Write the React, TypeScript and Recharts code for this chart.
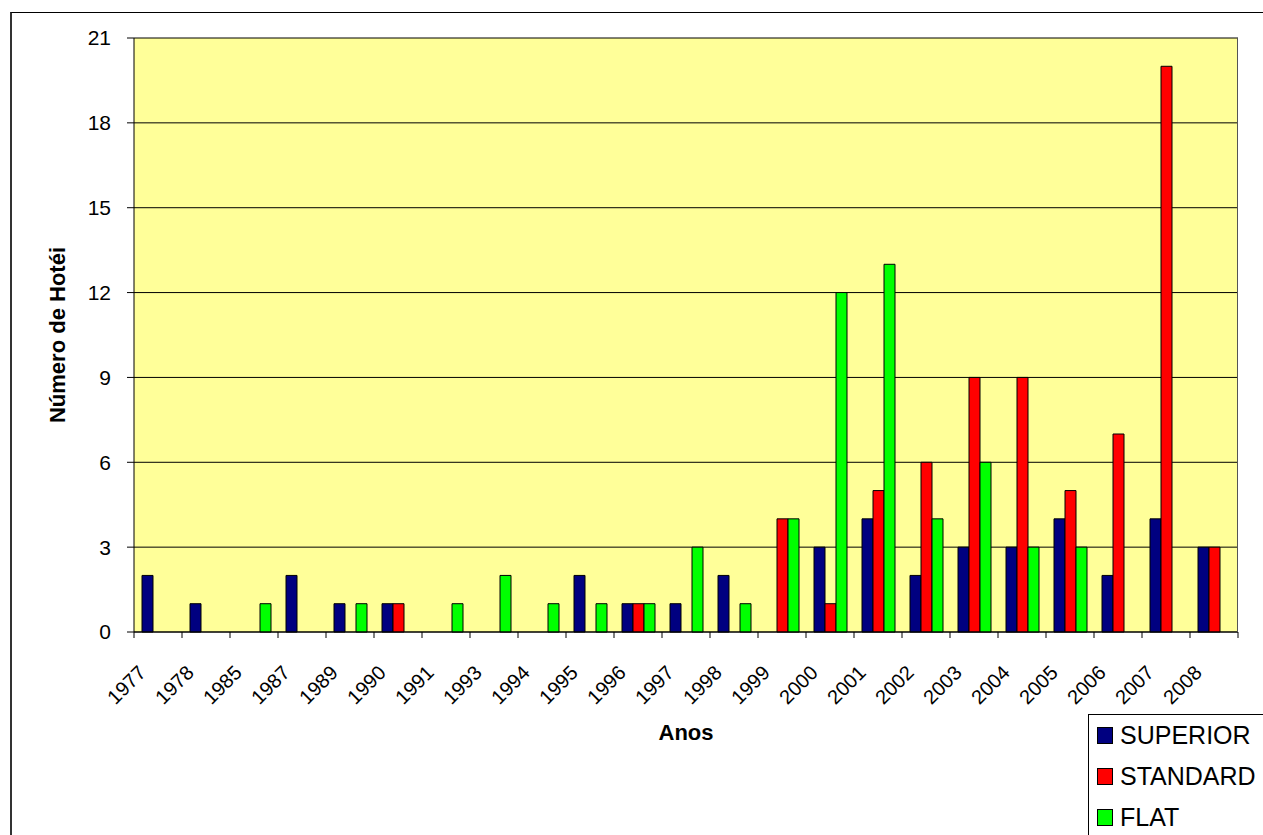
import { Bar, BarChart, CartesianGrid, XAxis, YAxis } from "recharts";

const years = [
  "1977", "1978", "1985", "1987", "1989", "1990", "1991", "1993", "1994", "1995", "1996", "1997",
  "1998", "1999", "2000", "2001", "2002", "2003", "2004", "2005", "2006", "2007", "2008"
];
const superior = [2, 1, 0, 2, 1, 1, 0, 0, 0, 2, 1, 1, 2, 0, 3, 4, 2, 3, 3, 4, 2, 4, 3];
const standard = [0, 0, 0, 0, 0, 1, 0, 0, 0, 0, 1, 0, 0, 4, 1, 5, 6, 9, 9, 5, 7, 20, 3];
const flat = [0, 0, 1, 0, 1, 0, 1, 2, 1, 1, 1, 3, 1, 4, 12, 13, 4, 6, 3, 3, 0, 0, 0];
const yTicks = [0, 3, 6, 9, 12, 15, 18, 21];

const series = [
  { key: "SUPERIOR", values: superior, color: "#000080" },
  { key: "STANDARD", values: standard, color: "#ff0000" },
  { key: "FLAT", values: flat, color: "#00ff00" }
];

// zero means "no hotels": leave the bar out like the original does
const data = years.map((year, i) => {
  const row: Record<string, string | number | null> = { year };
  series.forEach((s) => {
    row[s.key] = s.values[i] === 0 ? null : s.values[i];
  });
  return row;
});

const font = "Arial, 'Liberation Sans', sans-serif";

function YearTick(props: any) {
  const { x, y, payload, index } = props;
  const half = payload.offset ?? 24;
  const tx = x - 11;
  const ty = y + 42;
  return (
    <g>
      <line x1={x - half} y1={y} x2={x - half} y2={y + 6} stroke="#000" />
      {index === years.length - 1 && <line x1={x + half} y1={y} x2={x + half} y2={y + 6} stroke="#000" />}
      <text
        x={tx}
        y={ty}
        textAnchor="end"
        fontSize={20}
        fontFamily={font}
        fill="#000"
        transform={`rotate(-45, ${tx}, ${ty})`}
      >
        {payload.value}
      </text>
    </g>
  );
}

function LegendBox() {
  return (
    <div
      style={{
        position: "absolute",
        left: 1088,
        top: 714,
        width: 190,
        height: 140,
        border: "1px solid #000",
        background: "#fff",
        boxSizing: "border-box",
        padding: "0 0 0 8px",
        fontFamily: font,
        fontSize: 25
      }}
    >
      {series.map((s) => (
        <div key={s.key} style={{ display: "flex", alignItems: "center", height: 41 }}>
          <span
            style={{
              display: "inline-block",
              width: 14,
              height: 15,
              background: s.color,
              border: "1px solid #000",
              marginRight: 7
            }}
          />
          <span>{s.key}</span>
        </div>
      ))}
    </div>
  );
}

export default function App() {
  return (
    <div style={{ position: "absolute", left: 0, top: 0, width: 1263, height: 835, overflow: "hidden", background: "#fff" }}>
      <div
        style={{
          position: "absolute",
          left: 10,
          top: 12,
          width: 1300,
          height: 900,
          borderTop: "1px solid #000",
          borderLeft: "2px solid #333"
        }}
      />
      <div style={{ position: "absolute", left: 0, top: 0 }}>
        <BarChart
          width={1263}
          height={835}
          data={data}
          margin={{ top: 38, right: 25, bottom: 93, left: 0 }}
          barSize={11}
          barGap={0}
        >
          <CartesianGrid vertical={false} stroke="#000" fill="#ffff99" fillOpacity={1} />
          <XAxis
            dataKey="year"
            interval={0}
            tickLine={false}
            tickSize={0}
            tickMargin={0}
            axisLine={{ stroke: "#000" }}
            height={110}
            tick={<YearTick />}
            label={{ value: "Anos", position: "insideBottom", offset: 2, fontSize: 22, fontWeight: "bold", fontFamily: font, fill: "#000" }}
          />
          <YAxis
            domain={[0, 21]}
            ticks={yTicks}
            interval={0}
            width={134}
            tickSize={7}
            tickMargin={16}
            tickLine={{ stroke: "#000" }}
            axisLine={{ stroke: "#000" }}
            tick={{ fontSize: 21, fill: "#000", fontFamily: font }}
            label={{
              value: "Número de Hotéi",
              angle: -90,
              position: "insideLeft",
              offset: 57,
              style: { textAnchor: "middle" },
              fontSize: 22,
              fontWeight: "bold",
              fontFamily: font,
              fill: "#000"
            }}
          />
          {series.map((s) => (
            <Bar key={s.key} dataKey={s.key} fill={s.color} stroke="#000" strokeWidth={1} isAnimationActive={false} />
          ))}
        </BarChart>
      </div>
      <div
        style={{
          position: "absolute",
          left: 134,
          top: 38,
          width: 1104,
          height: 594,
          boxSizing: "border-box",
          borderRight: "1px solid #555",
          pointerEvents: "none"
        }}
      />
      <LegendBox />
    </div>
  );
}
